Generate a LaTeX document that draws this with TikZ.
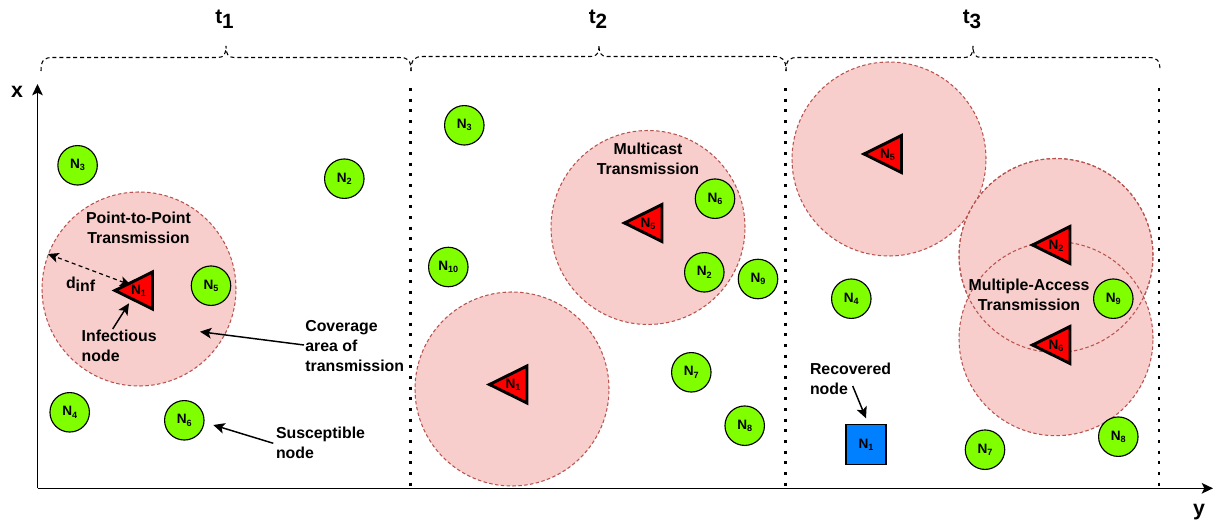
\documentclass[tikz,border=0pt]{standalone}
\usepackage{fontspec}
\setmainfont{Liberation Sans}
\usetikzlibrary{arrows.meta}
\newcommand{\Nlab}[1]{\fontsize{10.2}{11}\selectfont N\raisebox{-1.6pt}{\fontsize{6.8}{7}\selectfont #1}}
\newcommand{\trinode}[4]{%
  \draw[infectri] ({#2-37.5},#3) -- (#2,{#3-18.5}) -- (#2,{#3+18.5}) -- cycle;
  \node[nlabel] (#1) at ({#2-14},{#3+0.5}) {\Nlab{#4}};}
\tikzset{
  every node/.style={font=\bfseries},
  nlabel/.style={inner sep=0pt,outer sep=0pt},
  sus/.style={circle,draw=black,line width=0.85pt,fill=suscolor,minimum size=29.6pt,inner sep=0pt,font=\bfseries},
  rec/.style={rectangle,draw=black,line width=0.85pt,fill=reccolor,minimum size=30pt,inner sep=0pt,font=\bfseries},
  cov/.style={circle,draw=covline,fill=covfill,line width=0.8pt,dash pattern=on 2.6pt off 1.8pt,minimum size=145.5pt,inner sep=0pt},
  covring/.style={draw=covline,line width=0.8pt,dash pattern=on 2.6pt off 1.8pt},
  infectri/.style={draw=black,fill=red,line width=2.2pt,line join=miter},
  txt/.style={font=\fontsize{11.9}{15}\selectfont\bfseries,inner sep=0pt,outer sep=0pt},
  txtl/.style={txt,align=left},
  txtc/.style={txt,align=center},
  timeL/.style={font=\fontsize{15.5}{18}\selectfont\bfseries,inner sep=0pt},
  axislabel/.style={font=\fontsize{16}{18}\selectfont\bfseries,inner sep=0pt},
  axis/.style={draw=black,line width=1.1pt,-{Stealth[length=8.5pt,width=8pt,inset=2pt]}},
  callout/.style={draw=black,line width=1.1pt,-{Stealth[length=8.5pt,width=8pt,inset=2pt]}},
  radius line/.style={draw=black,line width=0.9pt,dash pattern=on 3pt off 2.5pt,{Stealth[length=8pt,width=7.5pt,inset=2pt]}-{Stealth[length=8pt,width=7.5pt,inset=2pt]}},
  slotline/.style={draw=black,line width=2.2pt,dash pattern=on 2.2pt off 5.8pt},
  bracepath/.style={draw=black,line width=0.8pt,dash pattern=on 3pt off 2.2pt},
}
\definecolor{suscolor}{HTML}{80FF00}
\definecolor{reccolor}{HTML}{007FFF}
\definecolor{covfill}{HTML}{F8CECC}
\definecolor{covline}{HTML}{B85450}
\begin{document}
\begin{tikzpicture}[x=0.75pt,y=-0.75pt]
\useasboundingbox (0,0) rectangle (1217,524);
% coverage areas
\node[cov] (c11) at (139,289) {};
\node[cov] (c21) at (512,389) {};
\node[cov] (c22) at (648,227.5) {};
\node[cov] (c31) at (889,159) {};
\node[cov] (c32) at (1056,255.5) {};
\node[cov] (c33) at (1056,338.7) {};
\draw[covring] (c32) circle[radius=72.75pt];
% slot boundaries
\coordinate (s1t) at (410.5,88); \coordinate (s1b) at (410.5,487);
\coordinate (s2t) at (785.5,88); \coordinate (s2b) at (785.5,487);
\coordinate (s3t) at (1159,88); \coordinate (s3b) at (1159,487);
\draw[slotline] (s1t) -- (s1b);
\draw[slotline] (s2t) -- (s2b);
\draw[slotline] (s3t) -- (s3b);
% axes
\coordinate (origin) at (37.5,488.3);
\coordinate (xtip) at (37.5,84);
\coordinate (ytip) at (1213,488.3);
\draw[axis] (origin) -- (xtip);
\draw[axis] (origin) -- (ytip);
\node[axislabel] (xlab) at (17,92) {x};
\node[axislabel] (ylab) at (1199,512) {y};
% braces
\draw[bracepath] (41,71) .. controls (41,60) and (44,57.5) .. (53,57.5) -- (218,57.5) .. controls (224,57.5) and (226,54) .. (226,46) .. controls (226,54) and (228,57.5) .. (234,57.5) -- (399,57.5) .. controls (408,57.5) and (411,60) .. (411,71);
\draw[bracepath] (411,71) .. controls (411,60) and (414,56.5) .. (423,56.5) -- (591,56.5) .. controls (597,56.5) and (599,53) .. (599,45) .. controls (599,53) and (601,56.5) .. (607,56.5) -- (774,56.5) .. controls (783,56.5) and (786,60) .. (786,71);
\draw[bracepath] (786,71) .. controls (786,60) and (789,57.5) .. (798,57.5) -- (965,57.5) .. controls (971,57.5) and (973,54) .. (973,46) .. controls (973,54) and (975,57.5) .. (981,57.5) -- (1148,57.5) .. controls (1157,57.5) and (1160,60) .. (1160,71);
\node[timeL] (t1) at (224.5,19.5) {t\raisebox{-4pt}{1}};
\node[timeL] (t2) at (598,19.5) {t\raisebox{-4pt}{2}};
\node[timeL] (t3) at (972,19.5) {t\raisebox{-4pt}{3}};
% t1
\node[sus] (a3) at (77.6,165.3) {\Nlab{3}};
\node[sus] (a2) at (344.3,178.7) {\Nlab{2}};
\node[sus] (a5) at (211,285.7) {\Nlab{5}};
\node[sus] (a4) at (69.7,412.3) {\Nlab{4}};
\node[sus] (a6) at (184.3,420.3) {\Nlab{6}};
\trinode{a1}{152.5}{290.5}{1}
% t2
\node[sus] (b3) at (464.3,125.3) {\Nlab{3}};
\node[sus] (b6) at (715,198.7) {\Nlab{6}};
\node[sus] (b10) at (448.3,267) {\Nlab{10}};
\node[sus] (b2) at (704.3,272.3) {\Nlab{2}};
\node[sus] (b9) at (758,279) {\Nlab{9}};
\node[sus] (b7) at (691.3,372.3) {\Nlab{7}};
\node[sus] (b8) at (744.7,425.7) {\Nlab{8}};
\trinode{b1}{527}{384.5}{1}
\trinode{b5}{662}{223}{5}
% t3
\node[sus] (d4) at (851.3,298.7) {\Nlab{4}};
\node[sus] (d9) at (1113.3,298.7) {\Nlab{9}};
\node[sus] (d7) at (985,449.7) {\Nlab{7}};
\node[sus] (d8) at (1118.3,436.7) {\Nlab{8}};
\node[rec] (d1) at (866,444.5) {\Nlab{1}};
\trinode{d5}{901.5}{154}{5}
\trinode{d2}{1070}{245}{2}
\trinode{d6}{1070}{345}{6}
% texts
\node[txtc] (p2p) at (138.5,228) {Point-to-Point\\Transmission};
\node[txtc] (mcast) at (648,159) {Multicast\\Transmission};
\node[txtc] (mac) at (1029,295) {Multiple-Access\\Transmission};
\node[txtl,anchor=west] (infect) at (81.7,346) {Infectious\\node};
\node[txtl,anchor=west] (cover) at (305.3,346) {Coverage\\area of\\transmission};
\node[txtl,anchor=west] (suscep) at (276,443) {Susceptible\\node};
\node[txtl,anchor=west] (recov) at (810,379) {Recovered\\node};
\node[txt,anchor=west] (dinf) at (66,284) {d\raisebox{-2.5pt}{inf}};
% callouts
\coordinate (infA) at (112.7,329); \coordinate (infB) at (129,303.3);
\coordinate (covA) at (304,345); \coordinate (covB) at (200,331.7);
\coordinate (susA) at (273.3,443.3); \coordinate (susB) at (213.3,425);
\coordinate (recA) at (852.7,386); \coordinate (recB) at (866,418.3);
\coordinate (radA) at (48,254); \coordinate (radB) at (130.7,285);
\draw[callout] (infA) -- (infB);
\draw[callout] (covA) -- (covB);
\draw[callout] (susA) -- (susB);
\draw[callout] (recA) -- (recB);
\draw[radius line] (radB) -- (radA);
\end{tikzpicture}
\end{document}
